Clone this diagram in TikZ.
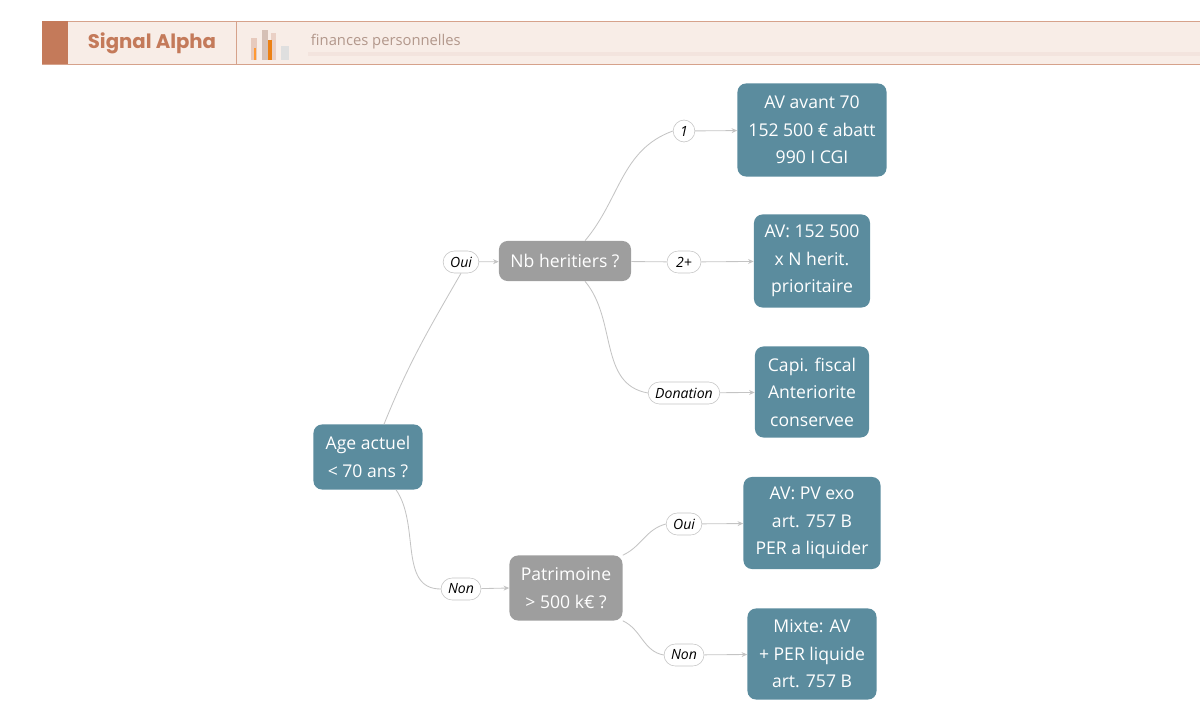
\documentclass[tikz,border=0pt]{standalone}
\usepackage{fontspec}
\setmainfont{Open Sans}
\newfontfamily\titlefont{Poppins}
\usetikzlibrary{arrows.meta,positioning}
\definecolor{teal}{HTML}{5B8C9E}
\definecolor{greybox}{HTML}{9E9E9E}
\definecolor{edge}{HTML}{C4C4C4}
\definecolor{brick}{HTML}{C47A5A}
\definecolor{band}{HTML}{F8EDE7}
\tikzset{
  leaf/.style={rectangle, rounded corners=6pt, fill=teal, text=white, align=center,
    font=\fontsize{12.5}{19.5}\selectfont, inner sep=0pt},
  ask/.style={leaf, fill=greybox},
  tag/.style={rectangle, rounded corners=8pt, draw=edge, fill=white, inner xsep=5pt,
    inner ysep=0pt, minimum height=0.55cm, minimum width=0.85cm,
    font=\itshape\fontsize{10}{12}\selectfont},
  link/.style={draw=edge, line width=0.6pt},
  arr/.style={link, -{Stealth[length=4pt,width=3.5pt,fill=edge]}}
}
\begin{document}
\begin{tikzpicture}[x=0.025cm,y=-0.025cm]
\useasboundingbox (0,0) rectangle (1200,721);
% header
\fill[band] (42,21) rectangle (1200,64);
\draw[brick!70, line width=0.6pt] (42,21) -- (1200,21);
\draw[brick!70, line width=0.6pt] (42,64) -- (1200,64);
\fill[brick] (42,21) rectangle (68,64);
\draw[brick!70, line width=0.6pt] (236,21) -- (236,64);
\node[font=\titlefont\bfseries\fontsize{14}{16}\selectfont, text=brick] (title) at (152,43) {Signal Alpha};
\fill[brick!40] (251,38) rectangle (257,60);
\fill[brick!25!band!80!gray] (262,30) rectangle (268,60);
\fill[brick!35] (271,33) rectangle (276,60);
\fill[orange!70!brown] (268,40) rectangle (272,60);
\fill[gray!25] (281,46) rectangle (289,60);
\fill[orange!80] (254,48) rectangle (256,60);
\fill[brick!20!white] (308,52) rectangle (1200,56);
\node[anchor=west, text=brick!45!gray!80, font=\fontsize{10.5}{12}\selectfont] (sub) at (306,42) {finances personnelles};
% decision nodes
\node[leaf, minimum width=2.725cm, minimum height=1.625cm] (age) at (368,457) {Age actuel\\< 70 ans ?};
\node[ask, minimum width=3.3cm, minimum height=1cm] (nb) at (565,261) {Nb heritiers ?};
\node[ask, minimum width=2.825cm, minimum height=1.625cm] (pat) at (566,588) {Patrimoine\\> 500 k€ ?};
% leaves
\node[leaf, minimum width=3.725cm, minimum height=2.325cm] (avant) at (812,130) {AV avant 70\\152 500 € abatt\\990 I CGI};
\node[leaf, minimum width=2.9cm, minimum height=2.325cm] (herit) at (812,261) {AV: 152 500\\x N herit.\\prioritaire};
\node[leaf, minimum width=2.85cm, minimum height=2.275cm] (capi) at (812,392) {Capi. fiscal\\Anteriorite\\conservee};
\node[leaf, minimum width=3.425cm, minimum height=2.3cm] (pv) at (812,523) {AV: PV exo\\art. 757 B\\PER a liquider};
\node[leaf, minimum width=3.225cm, minimum height=2.275cm] (mixte) at (812,654) {Mixte: AV\\+ PER liquide\\art. 757 B};
% labels
\node[tag] (oui1) at (461,262) {Oui};
\node[tag] (non1) at (461,589) {Non};
\node[tag, minimum width=0.5cm] (un) at (684,131) {1};
\node[tag] (deux) at (684,262) {2+};
\node[tag] (don) at (684,393) {Donation};
\node[tag] (oui2) at (684,524) {Oui};
\node[tag] (non2) at (684,655) {Non};
% connectors
\draw[link] ([xshift=0.4cm]age.north) to[out=68,in=240] (oui1.south);
\draw[arr] (oui1) -- (nb);
\draw[link] ([xshift=0.7cm]age.south) to[out=-55,in=180] (non1.west);
\draw[arr] (non1) -- (pat.west);
\draw[link] ([xshift=0.5cm]nb.north) to[out=50,in=200] (un.west);
\draw[arr] (un) -- (avant);
\draw[link] (nb) -- (deux);
\draw[arr] (deux) -- (herit);
\draw[link] ([xshift=0.5cm]nb.south) to[out=-50,in=170] (don.west);
\draw[arr] (don) -- (capi);
\draw[link] (pat.north east) to[out=25,in=195] (oui2.west);
\draw[arr] (oui2) -- (pv);
\draw[link] (pat.south east) to[out=-25,in=170] (non2.west);
\draw[arr] (non2) -- (mixte);
\end{tikzpicture}
\end{document}
